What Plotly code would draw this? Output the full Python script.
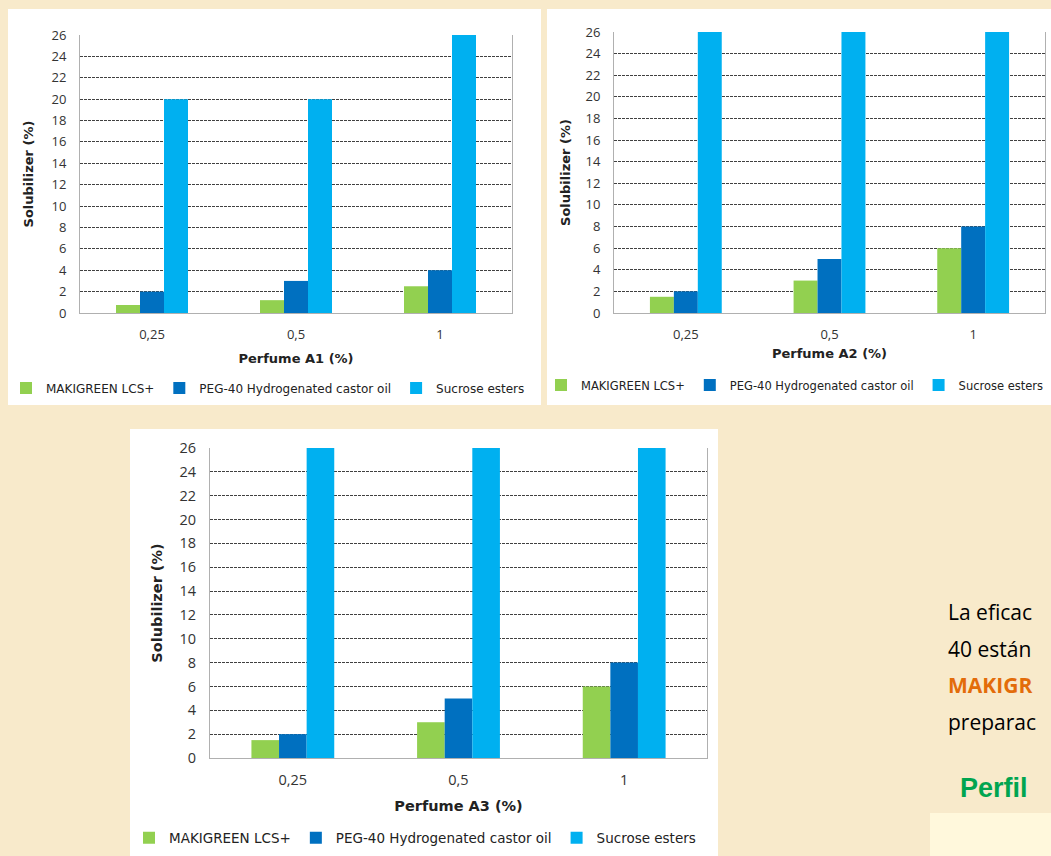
import plotly.graph_objects as go

# ---------------- data ----------------
categories = ["0,25", "0,5", "1"]
series_names = ["MAKIGREEN LCS+", "PEG-40 Hydrogenated castor oil", "Sucrose esters"]
series_colors = ["#92D050", "#0070C0", "#00B0F0"]

a1_makigreen = [0.75, 1.2, 2.5]
a1_peg40 = [2, 3, 4]
a1_sucrose = [20, 20, 26]

a2_makigreen = [1.5, 3, 6]
a2_peg40 = [2, 5, 8]
a2_sucrose = [26, 26, 26]

a3_makigreen = [1.5, 3, 6]
a3_peg40 = [2, 5, 8]
a3_sucrose = [26, 26, 26]

y_ticks = list(range(0, 27, 2))
x_titles = ["Perfume A1 (%)", "Perfume A2 (%)", "Perfume A3 (%)"]
y_title = "Solubilizer (%)"

side_lines = ["La eficac", "40 están", "MAKIGR", "preparac"]
side_heading = "Perfil"

# ---------------- layout helpers ----------------
W, H = 1051, 856


def px(x):
    return x / W


def py(y):
    return 1 - y / H


panels = [
    dict(plot=(80, 512, 35, 313), box=(8, 541, 9, 405), legend=(6, 388),
         xstand=12, ystand=14, tsize=13, ksize=13, lsize=12),
    dict(plot=(614, 1045, 32, 313), box=(547, 1060, 9, 405), legend=(541, 385),
         xstand=7, ystand=11, tsize=13, ksize=13, lsize=11.5),
    dict(plot=(210, 707, 448, 758), box=(130, 718, 429, 870), legend=(129, 838),
         xstand=12, ystand=13, tsize=14.5, ksize=14.5, lsize=13.5),
]

data_sets = [
    [a1_makigreen, a1_peg40, a1_sucrose],
    [a2_makigreen, a2_peg40, a2_sucrose],
    [a3_makigreen, a3_peg40, a3_sucrose],
]

fig = go.Figure()
legend_ids = ["legend", "legend2", "legend3"]

for i, (panel, series) in enumerate(zip(panels, data_sets)):
    suffix = "" if i == 0 else str(i + 1)
    for name, color, vals in zip(series_names, series_colors, series):
        fig.add_trace(go.Bar(
            x=categories, y=vals, name=name,
            marker=dict(color=color, line=dict(width=0)),
            xaxis="x" + suffix, yaxis="y" + suffix,
            legend=legend_ids[i],
        ))

    title_font = dict(family="DejaVu Sans", size=panel["tsize"], color="#222222")
    tick_font = dict(family="Open Sans", size=panel["ksize"], color="#333333")
    x0, x1, yt, yb = panel["plot"]
    fig.update_layout(**{
        "xaxis" + suffix: dict(
            domain=[px(x0), px(x1)], anchor="y" + suffix,
            showline=True, linecolor="#B0B0B0", linewidth=1,
            showgrid=False, ticks="outside", ticklen=9,
            tickcolor="rgba(0,0,0,0)", tickfont=tick_font,
            title=dict(text="<b>" + x_titles[i] + "</b>", font=title_font,
                       standoff=panel["xstand"]),
            automargin=False, fixedrange=True,
        ),
        "yaxis" + suffix: dict(
            domain=[py(yb), py(yt)], anchor="x" + suffix,
            range=[0, 26], tickvals=y_ticks,
            showline=True, mirror=True, linecolor="#B0B0B0", linewidth=1,
            showgrid=True, gridcolor="#404040", gridwidth=1, griddash="3px,1px",
            zeroline=False, ticks="outside", ticklen=10,
            tickcolor="rgba(0,0,0,0)", tickfont=tick_font,
            title=dict(text="<b>" + y_title + "</b>", font=title_font,
                       standoff=panel["ystand"]),
            automargin=False, fixedrange=True,
        ),
        legend_ids[i]: dict(
            orientation="h", x=px(panel["legend"][0]), y=py(panel["legend"][1]),
            xanchor="left", yanchor="middle", bgcolor="rgba(0,0,0,0)",
            font=dict(family="DejaVu Sans", size=panel["lsize"], color="#222222"),
            itemwidth=30, tracegroupgap=0,
        ),
    })

shapes = []
for panel in panels:
    bx0, bx1, by0, by1 = panel["box"]
    shapes.append(dict(type="rect", xref="paper", yref="paper",
                       x0=px(bx0), x1=px(bx1), y0=py(by1), y1=py(by0),
                       fillcolor="white", line=dict(width=0), layer="below"))
# light yellow box bottom right
shapes.append(dict(type="rect", xref="paper", yref="paper",
                   x0=px(930), x1=px(1060), y0=py(870), y1=py(813),
                   fillcolor="#FFF8DC", line=dict(width=0), layer="below"))

annotations = []
side_colors = ["#000000", "#000000", "#E36C0A", "#000000"]
side_bold = [False, False, True, False]
side_y = [612, 649, 685, 722]
for txt, col, b, yy in zip(side_lines, side_colors, side_bold, side_y):
    annotations.append(dict(
        text=("<b>" + txt + "</b>") if b else txt,
        x=px(946), y=py(yy), xref="paper", yref="paper",
        xanchor="left", yanchor="middle", showarrow=False,
        font=dict(family="Open Sans", size=21, color=col),
    ))
annotations.append(dict(
    text="<b>" + side_heading + "</b>",
    x=px(958), y=py(788), xref="paper", yref="paper",
    xanchor="left", yanchor="middle", showarrow=False,
    font=dict(family="Liberation Sans", size=27, color="#00A550"),
))

fig.update_layout(
    width=W, height=H, autosize=False,
    margin=dict(l=0, r=0, t=0, b=0),
    paper_bgcolor="#F8EACB",
    plot_bgcolor="white",
    barmode="group", bargap=0.5, bargroupgap=0,
    shapes=shapes, annotations=annotations,
    showlegend=True,
)

fig.write_html(
    "out.html",
    config={"responsive": False, "displayModeBar": False},
    default_width="1051px", default_height="856px",
    post_script="document.body.style.margin='0px';"
                "document.documentElement.style.overflow='hidden';"
                "document.body.style.overflow='hidden';",
)
